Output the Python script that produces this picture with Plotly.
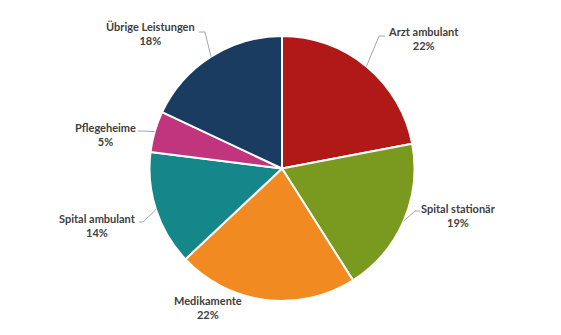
import math
import plotly.graph_objects as go

# Anteile der Gesundheitskosten nach Leistung (in %)
categories = ["Arzt ambulant", "Spital stationär", "Medikamente",
              "Spital ambulant", "Pflegeheime", "Übrige Leistungen"]
shares = [22, 19, 22, 14, 5, 18]
colors = ["#B01917", "#7A9A1F", "#F28A22", "#15868A", "#C0357E", "#1A3C61"]

W, H = 561, 335
CX, CY, R = 282, 168.5, 132.5

# label text centre (px) and leader-line elbow (px) per slice; None = no leader
label_pos = [(423, 38), (458, 215), (208, 307), (97, 225), (106, 134), (150, 33)]
elbows = [((379, 36), (385, 36)), ((415, 211), (420, 211)), None,
          ((143, 222), (139, 222)), ((141, 131), (138, 131)), ((205, 32), (199, 32))]


def px(x, y):
    return x / W, 1 - y / H


fig = go.Figure(go.Pie(
    labels=categories, values=shares, sort=False, direction="clockwise",
    rotation=0, textinfo="none", hoverinfo="label+percent",
    marker=dict(colors=colors, line=dict(color="white", width=2)),
    domain=dict(x=[(CX - R) / W, (CX + R) / W], y=[1 - (CY + R) / H, 1 - (CY - R) / H]),
    showlegend=False,
))

total = sum(shares)
cum = 0
shapes, annotations = [], []
for name, val, lp, el in zip(categories, shares, label_pos, elbows):
    mid = (cum + val / 2) / total * 2 * math.pi
    cum += val
    ex, ey = CX + R * math.sin(mid), CY - R * math.cos(mid)
    if el is not None:
        (bx, by), (tx, ty) = el
        p0, p1, p2 = px(ex, ey), px(bx, by), px(tx, ty)
        shapes.append(dict(
            type="path", xref="paper", yref="paper",
            path=f"M {p0[0]},{p0[1]} L {p1[0]},{p1[1]} L {p2[0]},{p2[1]}",
            line=dict(color="#A6A6A6", width=1)))
    ax, ay = px(*lp)
    annotations.append(dict(
        x=ax, y=ay, xref="paper", yref="paper", showarrow=False,
        text=f"<b>{name}<br>{round(val / total * 100)}%</b>",
        align="center", xanchor="center", yanchor="middle",
        font=dict(family="Lato", size=11, color="#404040")))

fig.update_layout(
    width=W, height=H, margin=dict(l=0, r=0, t=0, b=0),
    paper_bgcolor="white", plot_bgcolor="white",
    shapes=shapes, annotations=annotations,
)

fig.write_html("out.html")
